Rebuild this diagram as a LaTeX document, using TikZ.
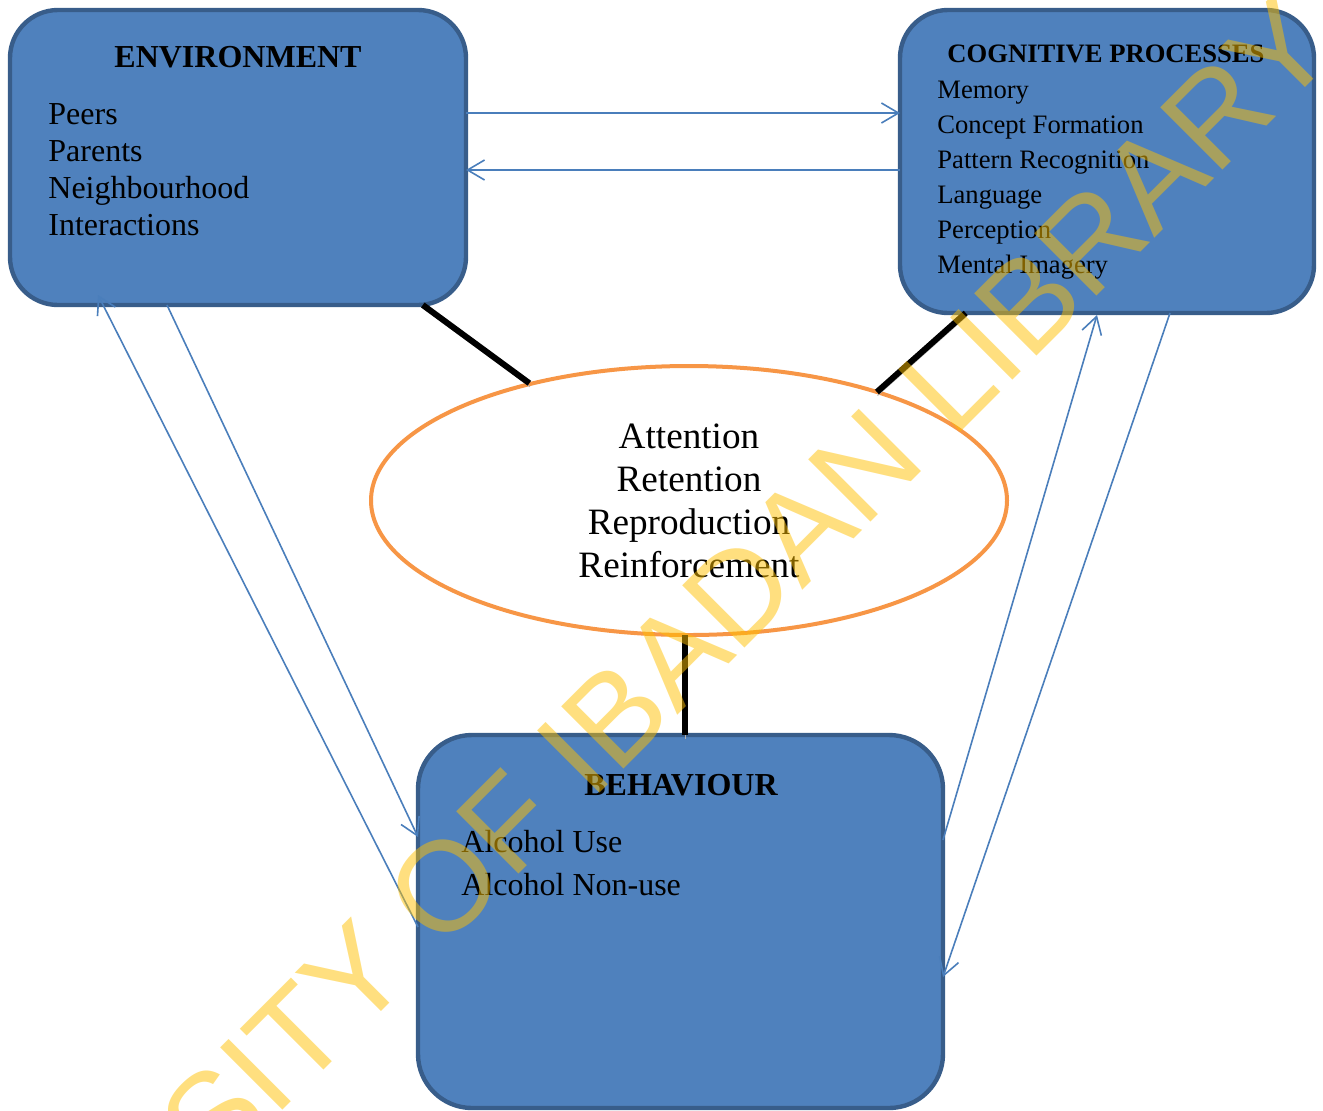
\documentclass[tikz,border=0pt]{standalone}
\usepackage{fontspec}
\setmainfont{Liberation Serif}
\newfontfamily\stampfont{Liberation Sans}
\usetikzlibrary{arrows.meta,shapes.geometric,positioning}
\definecolor{boxfill}{HTML}{4F81BD}
\definecolor{boxline}{HTML}{385D8A}
\definecolor{linkblue}{HTML}{4A7EBB}
\definecolor{ringorange}{HTML}{F79646}
\definecolor{stampgold}{HTML}{FFC000}
\tikzset{
  box/.style={draw=boxline,fill=boxfill,line width=2.2pt,rounded corners=24pt,inner sep=0pt,outer sep=0pt},
  head/.style={font=\bfseries\fontsize{16}{19}\selectfont,inner sep=0pt,anchor=base},
  items/.style={align=left,inner sep=0pt,anchor=base west,font=\fontsize{16}{18.5}\selectfont},
  link/.style={draw=linkblue,line width=0.8pt,-{Straight Barb[length=8.5pt,width=10pt]}},
  bar/.style={line width=3pt,preaction={draw=black!30,transform canvas={xshift=0.3pt,yshift=-1.8pt}}},
  stamp/.style={font=\stampfont\fontsize{64}{64}\selectfont,text=stampgold,text opacity=0.5,inner sep=0pt,anchor=base,rotate=45}
}
\begin{document}
\begin{tikzpicture}[x=0.5pt,y=-0.5pt]
\useasboundingbox (0,0) rectangle (1323,1110);
% the three boxes
\node[box,minimum width=228pt,minimum height=147.5pt] (env) at (238,157.5) {};
\node[box,minimum width=207pt,minimum height=151.5pt] (cog) at (1107,161.5) {};
\node[box,minimum width=262.5pt,minimum height=186.5pt,rounded corners=27pt] (beh) at (680.5,921.5) {};
% ellipse in the middle
\node[ellipse,draw=ringorange,fill=white,line width=2pt,minimum width=318pt,minimum height=134.5pt,inner sep=0pt,outer sep=0pt,align=center,font=\fontsize{18.6}{21.5}\selectfont] (stages) at (689,500.5) {Attention\\Retention\\Reproduction\\Reinforcement};
% box texts (lists sit on the baseline of their last line)
\node[head] (envhead) at (238,67) {ENVIRONMENT};
\node[items] (envlist) at (48,235) {Peers\\Parents\\Neighbourhood\\Interactions};
\node[head,font=\bfseries\fontsize{13.3}{16}\selectfont] (coghead) at (1106,62) {COGNITIVE PROCESSES};
\node[items,font=\fontsize{13.3}{17.5}\selectfont] (coglist) at (937,273) {Memory\\Concept Formation\\Pattern Recognition\\Language\\Perception\\Mental Imagery};
\node[head] (behhead) at (681,795) {BEHAVIOUR};
\node[items,font=\fontsize{16}{21.5}\selectfont] (behlist) at (461,895) {Alcohol Use\\Alcohol Non-use};
% arrows between boxes
\draw[link] ([yshift=22.25pt]env.east) -- ([yshift=22.25pt]env.east -| cog.west);
\draw[link] ([yshift=-6.25pt]env.east -| cog.west) -- ([yshift=-6.25pt]env.east);
\draw[link] ([yshift=-2.75pt]beh.west) -- ([xshift=-70pt,yshift=5pt]env.south);
\draw[link] ([xshift=-35.5pt]env.south) -- ([yshift=42.25pt]beh.west);
\draw[link] ([yshift=40.75pt]beh.east) -- ([xshift=-5pt,yshift=-1pt]cog.south);
\draw[link] ([xshift=31.5pt]cog.south) -- ([yshift=-27.75pt]beh.east);
% thick bars to the ellipse
\draw[bar] ([xshift=-2pt]env.-38.9) -- ([xshift=-2pt]stages.143.3);
\draw[bar] (cog.227.3) -- (stages.30.5);
\draw[bar] ([xshift=-2pt]stages.south) -- ([xshift=-2pt]stages.south |- beh.north);
% watermark
\begin{scope}
\clip (0,0) rectangle (1323,1110);
\node[stamp] (wmark) at (606,787) {UNIVERSITY OF IBADAN LIBRARY};
\end{scope}
\end{tikzpicture}
\end{document}
